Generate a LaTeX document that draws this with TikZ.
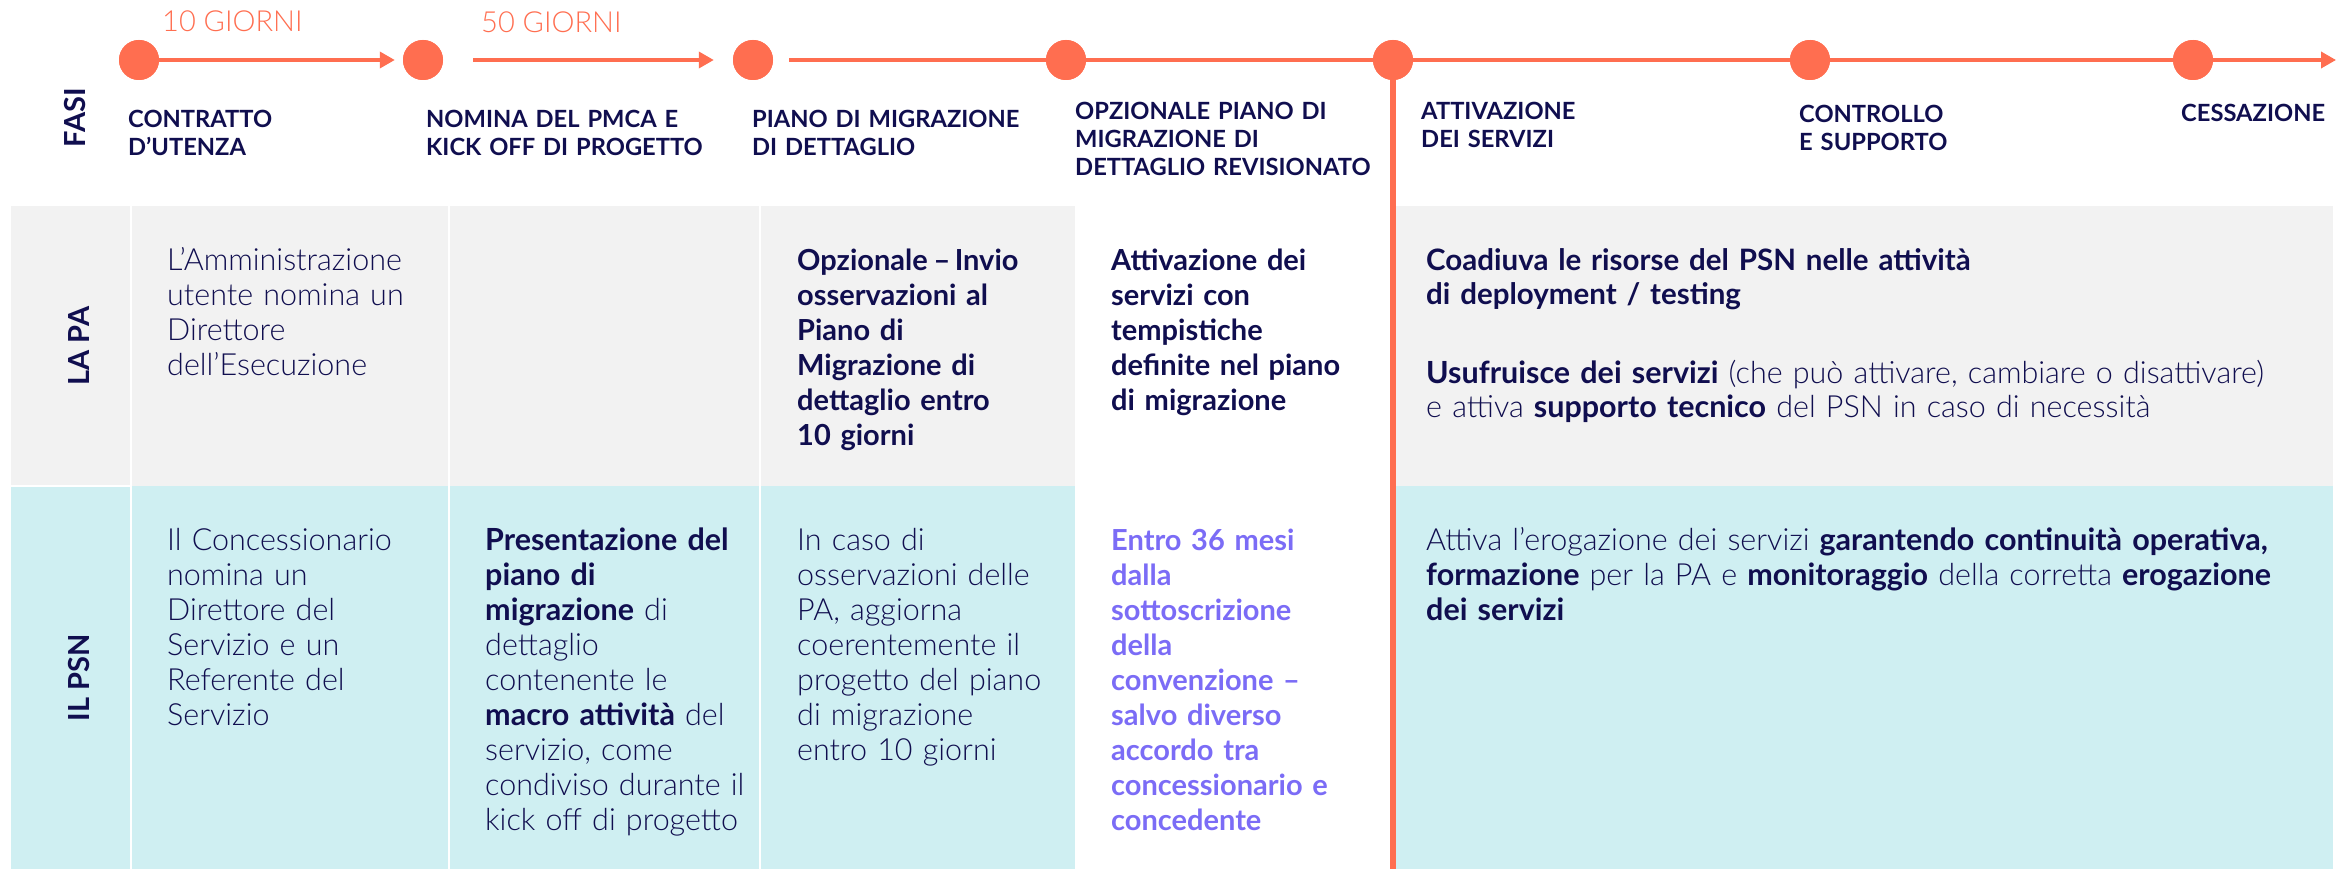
\documentclass[tikz,border=0pt]{standalone}
\usepackage{fontspec}
\setmainfont{Lato}[UprightFont=* Light, BoldFont=* Bold]
\usetikzlibrary{arrows.meta}
\definecolor{org}{HTML}{FF6E50}
\definecolor{navy}{HTML}{100E4F}
\definecolor{gry}{HTML}{F2F2F2}
\definecolor{cyn}{HTML}{CFEFF2}
\definecolor{purp}{HTML}{7B6CF6}
\begin{document}
\begin{tikzpicture}[x=1pt,y=-1pt,
  phasedot/.style={circle,fill=org,minimum size=40pt,inner sep=0pt},
  tline/.style={draw=org,line width=3.5pt},
  tarrow/.style={tline,-{Triangle[length=15pt,width=16pt]}},
  phaselabel/.style={anchor=base west,inner sep=0pt,text width=360pt,align=left,text=navy,font=\fontsize{23.7}{28}\selectfont\bfseries},
  bodytext/.style={anchor=base west,inner sep=0pt,text width=310pt,align=left,text=navy,font=\fontsize{30.5}{35}\selectfont},
  boldtext/.style={bodytext,font=\fontsize{29}{35}\selectfont\bfseries},
  sidelabel/.style={rotate=90,text=navy,font=\fontsize{29}{29}\selectfont\bfseries,inner sep=0pt},
  dayslabel/.style={anchor=base west,inner sep=0pt,text=org,font=\fontsize{29}{29}\selectfont},
  divider/.style={draw=white,line width=2pt}
]
\useasboundingbox (0,0) rectangle (2344,869);
\fill[white] (0,0) rectangle (2344,869);
% backgrounds
\fill[gry] (11,206) rectangle (1075,486);
\fill[gry] (1395,206) rectangle (2333,486);
\fill[cyn] (11,486) rectangle (1075,869);
\fill[cyn] (1395,486) rectangle (2333,869);
\draw[divider] (131,206) -- (131,869);
\draw[divider] (449,206) -- (449,869);
\draw[divider] (760,206) -- (760,869);
\draw[divider] (11,486) -- (131,486);
% timeline
\node[phasedot] (c1) at (139,60) {};
\node[phasedot] (c2) at (423,60) {};
\node[phasedot] (c3) at (753,60) {};
\node[phasedot] (c4) at (1066,60) {};
\node[phasedot] (c5) at (1393,60) {};
\node[phasedot] (c6) at (1810,60) {};
\node[phasedot] (c7) at (2193,60) {};
\coordinate (tend) at (2336,60);
\coordinate (vend) at (1393,869);
\draw[org,line width=6pt] (c5.center) -- (vend);
\draw[tarrow,shorten >=8pt] (c1) -- (c2);
\draw[tarrow,shorten <=30pt,shorten >=19pt] (c2) -- (c3);
\draw[tline,shorten <=16pt] (c3) -- (c4);
\draw[tline] (c4) -- (c5);
\draw[tline] (c5) -- (c6);
\draw[tline] (c6) -- (c7);
\draw[tarrow] (c7) -- (tend);
\node[phasedot] at (c1) {};
\node[phasedot] at (c2) {};
\node[phasedot] at (c3) {};
\node[phasedot] at (c4) {};
\node[phasedot] at (c5) {};
\node[phasedot] at (c6) {};
\node[phasedot] at (c7) {};
% day labels
\node[dayslabel] (d1) at (162,32) {10 GIORNI};
\node[dayslabel] (d2) at (481,33) {50 GIORNI};
% phase labels
\node[phaselabel] (p1) at (128,128) {CONTRATTO\\D’UTENZA};
\node[phaselabel] (p2) at (426,128) {NOMINA DEL PMCA E\\KICK OFF DI PROGETTO};
\node[phaselabel] (p3) at (752,128) {PIANO DI MIGRAZIONE\\DI DETTAGLIO};
\node[phaselabel] (p4) at (1075,120) {OPZIONALE PIANO DI\\MIGRAZIONE DI\\DETTAGLIO REVISIONATO};
\node[phaselabel] (p5) at (1421,120) {ATTIVAZIONE\\DEI SERVIZI};
\node[phaselabel] (p6) at (1799,123) {CONTROLLO\\E SUPPORTO};
\node[phaselabel] (p7) at (2181,122) {CESSAZIONE};
% side labels
\node[sidelabel] (s1) at (75,118) {FASI};
\node[sidelabel] (s2) at (79,346) {LA PA};
\node[sidelabel] (s3) at (79,678) {IL PSN};
% LA PA row
\node[bodytext] (a2) at (167,270) {L’Amministrazione\\utente nomina un\\Direttore\\dell’Esecuzione};
\node[boldtext] (a4) at (797,270) {Opzionale\hspace{0.2em}–\hspace{0.15em}Invio\\osservazioni al\\Piano di\\Migrazione di\\dettaglio entro\\10 giorni};
\node[boldtext] (a5) at (1111,270) {Attivazione dei\\servizi con\\tempistiche\\definite nel piano\\di migrazione};
\node[boldtext,text width=900pt,font=\fontsize{29.5}{34}\selectfont\bfseries] (a6) at (1426,270) {Coadiuva le risorse del PSN nelle attività\\di deployment / testing};
\node[bodytext,text width=900pt,font=\fontsize{30.5}{34}\selectfont] (a7) at (1426,383) {\textbf{Usufruisce dei servizi} (che può attivare, cambiare o disattivare)\\e attiva \textbf{supporto tecnico} del PSN in caso di necessità};
% IL PSN row
\node[bodytext] (b2) at (167,550) {Il Concessionario\\nomina un\\Direttore del\\Servizio e un\\Referente del\\Servizio};
\node[bodytext] (b3) at (485,550) {\textbf{Presentazione del}\\\textbf{piano di}\\\textbf{migrazione} di\\dettaglio\\contenente le\\\textbf{macro attività} del\\servizio, come\\condiviso durante il\\kick off di progetto};
\node[bodytext] (b4) at (797,550) {In caso di\\osservazioni delle\\PA, aggiorna\\coerentemente il\\progetto del piano\\di migrazione\\entro 10 giorni};
\node[boldtext,text=purp] (b5) at (1111,550) {Entro 36 mesi\\dalla\\sottoscrizione\\della\\convenzione –\\salvo diverso\\accordo tra\\concessionario e\\concedente};
\node[bodytext,text width=900pt] (b6) at (1426,550) {Attiva l’erogazione dei servizi \textbf{garantendo continuità operativa,}\\\textbf{formazione} per la PA e \textbf{monitoraggio} della corretta \textbf{erogazione}\\\textbf{dei servizi}};
\end{tikzpicture}
\end{document}
